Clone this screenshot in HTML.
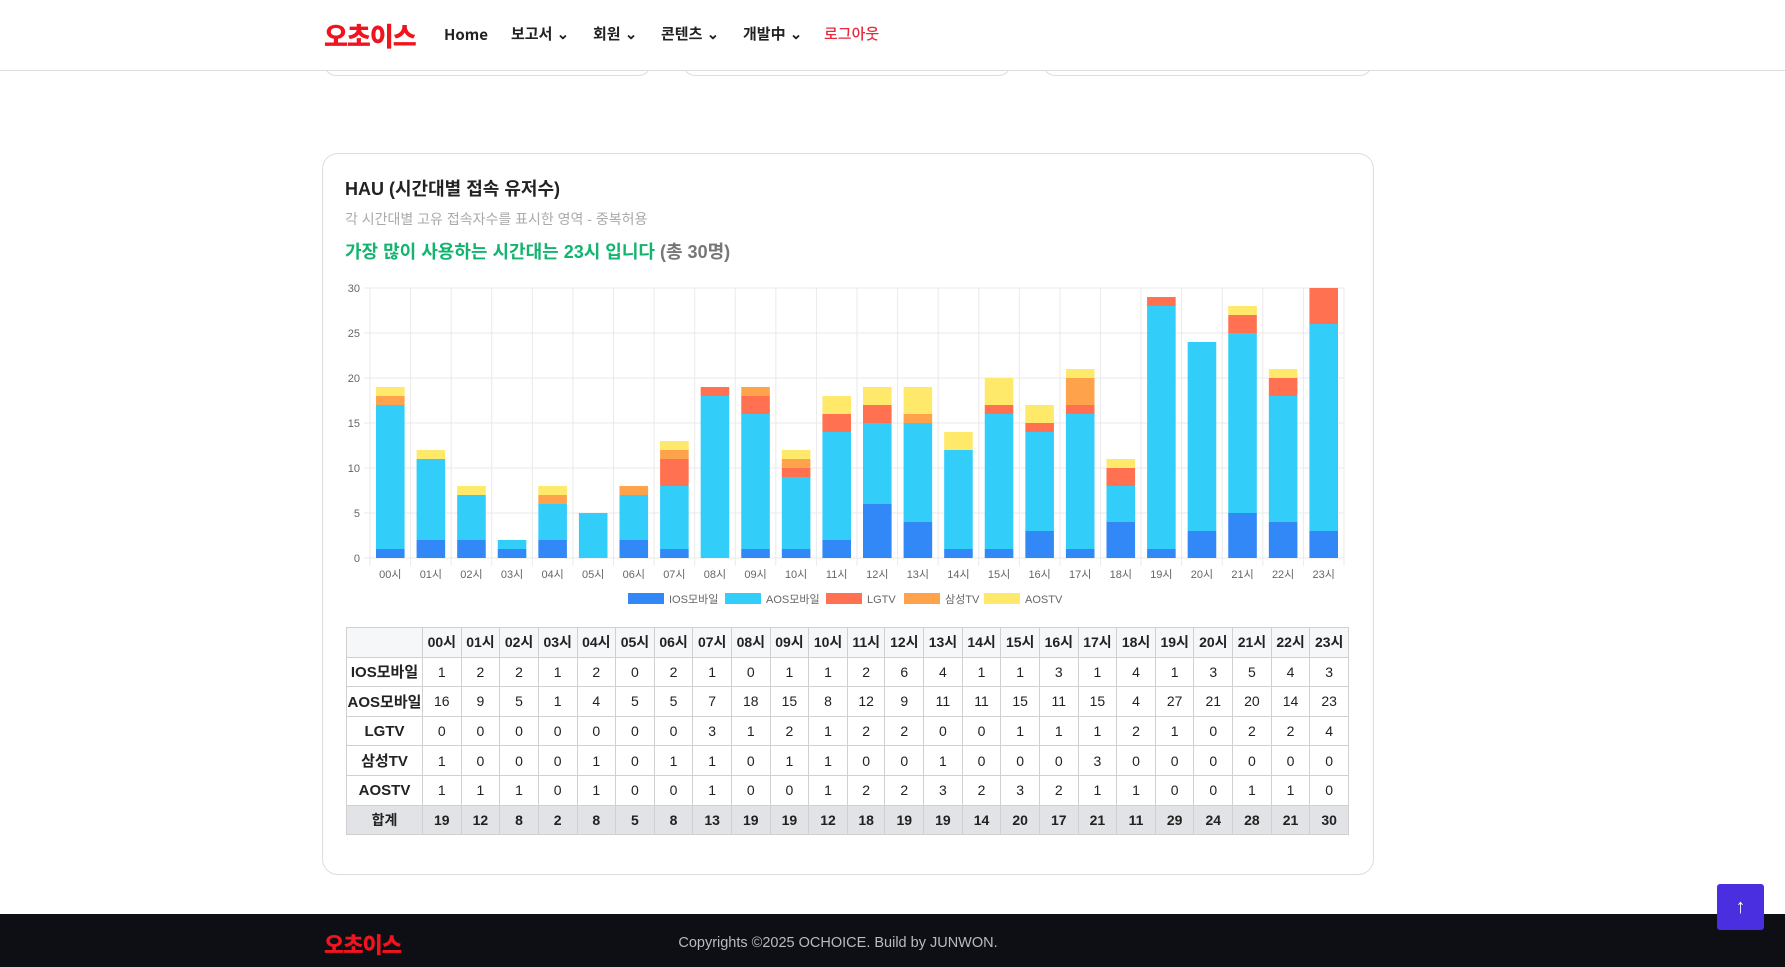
<!DOCTYPE html>
<html><head><meta charset="utf-8">
<style>
*{box-sizing:border-box;margin:0;padding:0}
body{width:1785px;height:967px;overflow:hidden;background:#fff;font-family:"Liberation Sans","Noto Sans CJK KR",sans-serif;position:relative;color:#222}
.abs{position:absolute}
header{position:absolute;left:0;top:0;width:1785px;height:71px;border-bottom:1px solid #ddd;background:#fff;z-index:2}
.logo{color:#f0141e;font-weight:900;font-size:26px;letter-spacing:-1px}
.nav{font-size:15px;font-weight:600;color:#222;top:25px;line-height:20px;height:20px}
.pc{border:1px solid #ddd;border-top:none;border-radius:0 0 14px 14px;height:12px;top:64px}
.card{left:322px;top:153px;width:1052px;height:722px;border:1px solid #ddd;border-radius:16px}
table{border-collapse:collapse;position:absolute;left:346px;top:627px;width:1003px;font-size:14px;text-align:center}
td,th{border:1px solid #d0d0d0;height:29.6px;padding:0}
th{font-weight:700;background:#f6f7f9}
tr.tot td{background:#e2e3e6;font-weight:700}
td.h{font-weight:700}
footer{position:absolute;left:0;top:914px;width:1785px;height:53px;background:#0e0f15}
</style></head><body>
<header>
 <div class="abs logo" style="left:324px;top:17px">오초이스</div>
 <div class="abs nav" style="left:444px"><span style="font-family:'Noto Sans CJK KR','Liberation Sans',sans-serif;font-weight:600;font-size:15px;line-height:20px">Home</span></div>
 <div class="abs nav" style="left:511px">보고서 ⌄</div>
 <div class="abs nav" style="left:593px">회원 ⌄</div>
 <div class="abs nav" style="left:661px">콘텐츠 ⌄</div>
 <div class="abs nav" style="left:743px">개발中 ⌄</div>
 <div class="abs nav" style="left:824px;color:#e8283c;font-weight:500">로그아웃</div>
</header>
<div class="abs pc" style="left:324px;width:327px"></div>
<div class="abs pc" style="left:683px;width:328px"></div>
<div class="abs pc" style="left:1043px;width:329px"></div>

<div class="abs card"></div>
<div class="abs" style="left:345px;top:175px;font-size:18px;font-weight:700">HAU (시간대별 접속 유저수)</div>
<div class="abs" style="left:345px;top:209px;font-size:14px;color:#aaa">각 시간대별 고유 접속자수를 표시한 영역 - 중복허용</div>
<div class="abs" style="left:345px;top:238px;font-size:18px;font-weight:700;color:#13b46e">가장 많이 사용하는 시간대는 23시 입니다 <span style="color:#777">(총 30명)</span></div>

<svg id="chart" class="abs" style="left:322px;top:270px" width="1052" height="345"></svg>

<table id="tbl"></table>

<footer>
 <div class="abs logo" style="left:324px;top:14px;font-size:22px">오초이스</div>
 <div class="abs" style="left:0;width:1676px;text-align:center;top:21px;color:#bbb;font-size:14.5px">Copyrights ©2025 OCHOICE. Build by JUNWON.</div>
</footer>
<div class="abs" style="left:1717px;top:884px;width:47px;height:46px;background:#4a2fe0;border-radius:3px;color:#fff;text-align:center;line-height:46px;font-size:20px;font-weight:700">↑</div>

<script>
const hours=["00시","01시","02시","03시","04시","05시","06시","07시","08시","09시","10시","11시","12시","13시","14시","15시","16시","17시","18시","19시","20시","21시","22시","23시"];
const seriesNames=["IOS모바일","AOS모바일","LGTV","삼성TV","AOSTV"];
const ios=[1,2,2,1,2,0,2,1,0,1,1,2,6,4,1,1,3,1,4,1,3,5,4,3];
const aos=[16,9,5,1,4,5,5,7,18,15,8,12,9,11,11,15,11,15,4,27,21,20,14,23];
const lgtv=[0,0,0,0,0,0,0,3,1,2,1,2,2,0,0,1,1,1,2,1,0,2,2,4];
const samsung=[1,0,0,0,1,0,1,1,0,1,1,0,0,1,0,0,0,3,0,0,0,0,0,0];
const aostv=[1,1,1,0,1,0,0,1,0,0,1,2,2,3,2,3,2,1,1,0,0,1,1,0];
const yTicks=[0,5,10,15,20,25,30];
const series=[ios,aos,lgtv,samsung,aostv];
const colors=["#3388f7","#33cdf9","#ff7150","#ffa24c","#ffe96b"];
const NS="http://www.w3.org/2000/svg";
const svg=document.getElementById('chart');
const X0=48,X1=1022,Y0=288,Ymax=30;
const yS=v=>Y0-v*(270/Ymax);
const bw=(X1-X0)/hours.length;
const xS=i=>X0+bw*i;
function mk(t,a){const e=document.createElementNS(NS,t);for(const k in a)e.setAttribute(k,a[k]);svg.appendChild(e);return e;}
yTicks.forEach(t=>{
 const l=mk('line',{x1:X0-6,x2:X1,y1:yS(t),y2:yS(t),stroke:'#e8e8e8'});
 
 
 const tx=mk('text',{x:X0-10,y:yS(t)+4,'text-anchor':'end','font-size':11,fill:'#666'});
 tx.textContent=t;
 
 
});
for(let i=0;i<=hours.length;i++){
 const l=mk('line',{x1:xS(i),x2:xS(i),y1:yS(Ymax),y2:Y0+8,stroke:'#eaeaea'});
 
 
}
hours.forEach((h,i)=>{
 let acc=0;
 series.forEach((s,k)=>{
  const v=s[i]; if(!v){return;}
  const r=mk('rect',{x:xS(i)+6,width:bw-12,y:yS(acc+v),height:yS(acc)-yS(acc+v),fill:colors[k]});
  
  
  acc+=v;
 });
 const tx=mk('text',{x:xS(i)+bw/2,y:Y0+20,'text-anchor':'middle','font-size':11,fill:'#666'});
 tx.textContent=h;
 
 
});
const lx=[306,403,504,582,662];
seriesNames.forEach((n,k)=>{
 const r=mk('rect',{x:lx[k],y:323,width:36,height:11,fill:colors[k]});
 
 
 const t=mk('text',{x:lx[k]+41,y:333,'font-size':11,fill:'#666'});
 t.textContent=n;
 
 
});
const tbl=document.getElementById('tbl');
let html='<tr><th style="width:76px"></th>'+hours.map(h=>'<th>'+h+'</th>').join('')+'</tr>';
series.forEach((s,k)=>{html+='<tr><td class="h" style="font-size:15px">'+seriesNames[k]+'</td>'+s.map(v=>'<td>'+v+'</td>').join('')+'</tr>';});
html+='<tr class="tot"><td>합계</td>'+hours.map((h,i)=>'<td>'+series.reduce((a,s)=>a+s[i],0)+'</td>').join('')+'</tr>';
tbl.innerHTML=html;
</script>
</body></html>
